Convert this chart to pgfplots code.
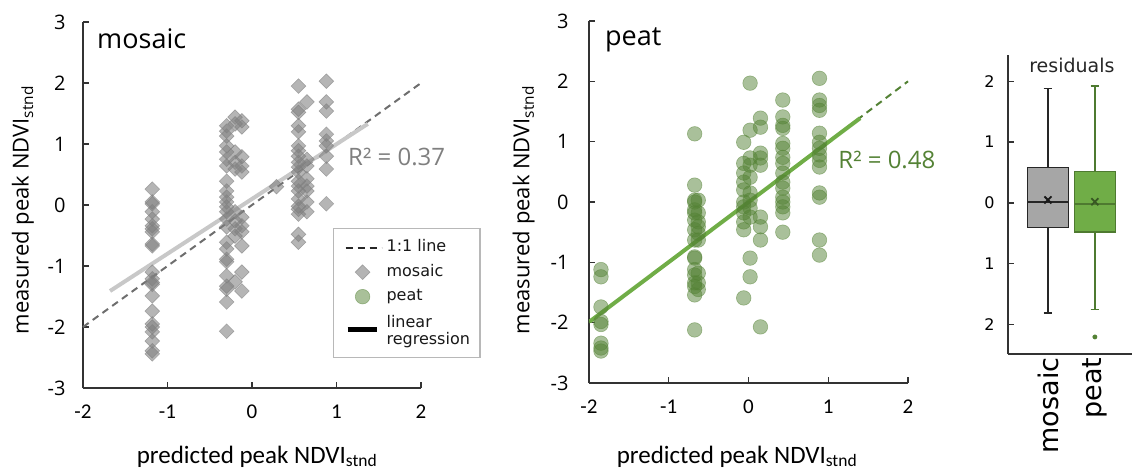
\documentclass[border=0pt]{standalone}
\usepackage{fontspec}
\setmainfont{Open Sans}
\newfontfamily\carl{Carlito}
\newfontfamily\dvs{DejaVu Sans}
\usepackage{pgfplots}
\pgfplotsset{compat=1.18}
\usepgfplotslibrary{statistics}
\definecolor{mosfill}{HTML}{7F7F7F}
\definecolor{mosreg}{HTML}{C8C8C8}
\definecolor{oneline}{HTML}{6E6E6E}
\definecolor{peatpt}{HTML}{548235}
\definecolor{peatreg}{HTML}{70AD47}
\definecolor{peatdark}{HTML}{385723}
\definecolor{peatedge}{HTML}{4E7A30}
\definecolor{boxgray}{HTML}{A6A6A6}
\pgfplotsset{
  scat/.style={
    scale only axis, anchor=south west, clip=false,
    xmin=-2, xmax=2, ymin=-3, ymax=3,
    axis x line*=bottom, axis y line*=left,
    axis line style={-, line width=1.2pt, black!80},
    tick align=inside, major tick length=6pt,
    tick style={line width=1.2pt, black!80},
    xtick={-2,-1,0,1,2}, xticklabels={-2,-1,0,1,2},
    ytick={-3,-2,-1,0,1,2,3}, yticklabels={-3,-2,-1,0,1,2,3},
    xticklabel style={font=\carl\fontsize{21}{21}\selectfont, yshift=-13pt},
    yticklabel style={font=\fontsize{20}{20}\selectfont},
    xlabel style={font=\carl\fontsize{25}{25}\selectfont, anchor=base},
    ylabel style={font=\fontsize{22}{22}\selectfont, anchor=center},
    xlabel={predicted peak NDVI\textsubscript{stnd}},
    ylabel={measured peak NDVI\textsubscript{stnd}},
  },
  mosmark/.style={only marks, mark=square*, mark size=5.2pt,
    mark options={rotate=45, fill=mosfill, draw=mosfill, fill opacity=0.58, draw opacity=0.58, line width=0.6pt}},
  peatmark/.style={only marks, mark=*, mark size=7.3pt,
    mark options={fill=peatpt, draw=peatpt, fill opacity=0.5, draw opacity=0.5, line width=0.6pt}},
  markimg/.style={legend image code/.code={\path[draw=none] (-4pt,0pt) -- (36pt,0pt); \path[##1, draw=none] plot coordinates {(17pt,0pt)};}},
  dashimg/.style={legend image code/.code={\path[draw=none] (-4pt,0pt) -- (36pt,0pt); \draw[solid, black!85, line width=2pt, dash pattern=on 7pt off 5pt] (0pt,0pt) -- (36pt,0pt);}},
  thickimg/.style={legend image code/.code={\path[draw=none] (-4pt,0pt) -- (36pt,0pt); \draw[solid, black, line width=4.5pt] (2pt,0pt) -- (31pt,0pt);}},
}
\begin{document}
\begin{tikzpicture}
\useasboundingbox (0,0) rectangle (1132pt,469pt);
% ---------------- mosaic panel
\begin{axis}[scat, at={(83pt,81pt)}, width=338pt, height=366pt,
  yticklabel style={xshift=-14pt},
  xlabel style={at={(axis description cs:0.515,-0.205)}},
  ylabel style={at={(axis description cs:-0.178,0.486)}},
  legend style={at={(axis description cs:0.7396,0.437)}, anchor=north west,
    draw=black!28, line width=1.2pt, fill=white,
    font=\dvs\fontsize{16}{18}\selectfont, text=black!90,
    inner xsep=8pt, inner ysep=9pt, row sep=4.5pt, column sep=2pt,
    nodes={inner sep=2pt, text height=12pt, text depth=4pt}},
  legend cell align=left,
]
\addlegendimage{dashimg}
\addlegendentry{1:1 line}
\addlegendimage{markimg, mosmark}
\addlegendentry{mosaic}
\addlegendimage{markimg, peatmark}
\addlegendentry{peat}
\addlegendimage{thickimg}
\addlegendentry[text height=14pt, text depth=19pt]{\begin{tabular}[t]{@{}l@{}}linear\\[-1pt]regression\end{tabular}}
% 1:1 line
\addplot[oneline, line width=2pt, dash pattern=on 7pt off 5pt] coordinates {(-2,-2) (2,2)};
% mosaic data
\addplot[mosmark] coordinates {
(-1.18,0.26) (-1.18,0.05) (-1.18,0.02) (-1.18,-0.11) (-1.18,-0.23) (-1.18,-0.34) (-1.18,-0.39) (-1.18,-0.44) (-1.18,-0.64) (-1.18,-0.67)
(-1.18,-1.10) (-1.18,-1.21) (-1.18,-1.27) (-1.18,-1.30) (-1.18,-1.49) (-1.18,-1.74) (-1.18,-1.95) (-1.18,-2.00) (-1.18,-2.08) (-1.18,-2.23) (-1.18,-2.39) (-1.18,-2.44)
(-0.30,1.30) (-0.30,1.21) (-0.30,1.13) (-0.30,0.97) (-0.30,0.87) (-0.30,0.75) (-0.30,0.64) (-0.30,0.39) (-0.30,0.23) (-0.30,0.13) (-0.30,0.05) (-0.30,-0.03)
(-0.30,-0.11) (-0.30,-0.23) (-0.30,-0.36) (-0.30,-0.61) (-0.30,-0.72) (-0.30,-0.89) (-0.30,-0.93) (-0.30,-1.16) (-0.30,-1.33) (-0.30,-1.38) (-0.30,-1.59) (-0.30,-2.07)
(-0.20,1.44) (-0.12,1.38) (-0.20,1.33) (-0.12,1.28) (-0.20,0.87) (-0.12,0.79) (-0.20,0.70) (-0.12,0.64) (-0.20,0.59) (-0.12,0.54)
(-0.20,-0.11) (-0.12,-0.20) (-0.20,-0.26) (-0.12,-0.34) (-0.20,-0.39) (-0.12,-0.44) (-0.20,-0.51) (-0.12,-0.67) (-0.12,-1.10) (-0.20,-1.26) (-0.12,-1.41)
(0.29,0.30)
(0.55,1.95) (0.55,1.57) (0.55,1.52) (0.55,1.30) (0.55,1.20) (0.55,0.97) (0.55,0.89) (0.55,0.80) (0.55,0.70) (0.55,0.62)
(0.55,0.54) (0.55,0.39) (0.55,0.31) (0.55,0.23) (0.55,0.10) (0.55,-0.02) (0.55,-0.07) (0.55,-0.15) (0.55,-0.48) (0.55,-0.61)
(0.65,1.69) (0.65,0.75) (0.65,0.64) (0.65,0.43) (0.65,0.31) (0.65,0.23) (0.65,0.05) (0.65,-0.11)
(0.88,2.03) (0.88,1.69) (0.88,1.54) (0.88,1.16) (0.88,1.05) (0.88,0.97) (0.88,0.80) (0.88,0.59) (0.88,0.02)
};
% regression
\addplot[mosreg, line width=4pt] coordinates {(-1.68,-1.41) (1.37,1.33)};
\node[anchor=base west, inner sep=0pt, font=\fontsize{27}{27}\selectfont] at (axis cs:-1.834,2.56) {mosaic};
\node[anchor=base west, inner sep=0pt, text=mosfill, font=\fontsize{24}{24}\selectfont] at (axis cs:1.136,0.64) {R² = 0.37};
\end{axis}
% ---------------- peat panel
\begin{axis}[scat, at={(589pt,86pt)}, width=319pt, height=362pt,
  yticklabel style={xshift=-17pt},
  xlabel style={at={(axis description cs:0.464,-0.221)}},
  ylabel style={at={(axis description cs:-0.205,0.478)}},
]
\addplot[peatpt, line width=2pt, dash pattern=on 7pt off 5pt] coordinates {(-2,-2) (2,2)};
\addplot[peatmark] coordinates {
(-1.85,-1.12) (-1.85,-1.24) (-1.85,-1.74) (-1.85,-1.98) (-1.85,-2.03) (-1.85,-2.34) (-1.85,-2.42) (-1.85,-2.47)
(-0.675,1.13) (-0.675,0.28) (-0.675,0.03) (-0.675,0.00) (-0.675,-0.13) (-0.675,-0.18) (-0.675,-0.30) (-0.675,-0.46) (-0.675,-0.63)
(-0.675,-0.91) (-0.675,-0.93) (-0.675,-1.12) (-0.675,-1.21) (-0.675,-1.34) (-0.675,-1.40) (-0.675,-1.54) (-0.675,-2.12)
(-0.63,0.03) (-0.63,-0.18) (-0.63,-0.33) (-0.63,-0.41) (-0.63,-0.52) (-0.63,-0.63) (-0.63,-1.18) (-0.63,-1.34) (-0.63,-1.45)
(-0.06,0.99) (-0.06,0.64) (-0.06,0.48) (-0.06,0.33) (-0.06,0.20) (-0.06,0.00) (-0.06,-0.08) (-0.06,-0.18) (-0.06,-0.33) (-0.06,-0.46) (-0.06,-1.59)
(0.02,1.97) (0.02,1.19) (0.02,0.73) (0.02,0.61) (0.02,0.41) (0.02,0.15) (0.02,0.03) (0.02,-0.10) (0.02,-0.25) (0.02,-0.93) (0.02,-1.24)
(0.15,1.39) (0.15,1.24) (0.15,0.81) (0.15,0.73) (0.15,0.61) (0.15,-0.25) (0.15,-0.41) (0.15,-0.63) (0.15,-2.07)
(0.43,1.69) (0.43,1.41) (0.43,1.27) (0.43,1.22) (0.43,0.97) (0.43,0.89) (0.43,0.74) (0.43,0.64) (0.43,0.48) (0.43,0.33) (0.43,0.23) (0.43,0.08) (0.43,0.00) (0.43,-0.08) (0.43,-0.18) (0.43,-0.50)
(0.89,2.05) (0.89,1.69) (0.89,1.60) (0.89,1.52) (0.89,1.14) (0.89,0.99) (0.89,0.89) (0.89,0.78) (0.89,0.69) (0.89,0.58) (0.89,0.15) (0.89,0.08) (0.89,-0.63) (0.89,-0.88)
};
\addplot[peatreg, line width=4pt] coordinates {(-1.99,-1.98) (1.40,1.39)};
\node[anchor=base west, inner sep=0pt, font=\fontsize{27}{27}\selectfont] at (axis cs:-1.80,2.60) {peat};
\node[anchor=base west, inner sep=0pt, text=peatpt, font=\fontsize{24}{24}\selectfont] at (axis cs:1.125,0.56) {R² = 0.48};
\end{axis}
% ---------------- residual boxplots
\begin{axis}[at={(1008pt,115pt)}, anchor=south west, scale only axis, clip=false,
  width=124pt, height=299pt,
  xmin=0.15, xmax=2.79, ymin=-2.48, ymax=2.43,
  axis x line*=bottom, axis y line*=left,
  axis line style={-, line width=1.2pt, black!80},
  tick align=inside, major tick length=6pt,
  tick style={line width=1.2pt, black!80},
  boxplot/draw direction=y,
  boxplot/every median/.style={line width=1.8pt},
  xtick={1,2}, xticklabels={mosaic,peat}, xtick style={draw=none},
  xticklabel style={rotate=90, anchor=east, font=\dvs\fontsize{27}{27}\selectfont},
  ytick={-2,-1,0,1,2}, yticklabels={2,1,0,1,2},
  yticklabel style={font=\dvs\fontsize{16}{16}\selectfont, xshift=-10pt},
]
\addplot[draw=black!85, line width=1.6pt, fill=boxgray,
  boxplot/box extend=0.87, boxplot/whisker extend=0.18,
  boxplot prepared={draw position=1, median=0.02, upper quartile=0.58,
    lower quartile=-0.40, upper whisker=1.88, lower whisker=-1.81}] coordinates {};
\addplot[draw=peatedge, line width=1.6pt, fill=peatreg,
  boxplot/box extend=0.87, boxplot/whisker extend=0.18,
  boxplot prepared={draw position=2, median=-0.02, upper quartile=0.52,
    lower quartile=-0.48, upper whisker=1.92, lower whisker=-1.75}] coordinates {};
\addplot[only marks, mark=x, mark size=5pt, line width=1.8pt, black!90] coordinates {(1,0.05)};
\addplot[only marks, mark=x, mark size=5pt, line width=1.8pt, peatdark] coordinates {(2,0.02)};
\addplot[only marks, mark=*, mark size=2.2pt, peatpt] coordinates {(2,-2.20)};
\node[anchor=base, inner sep=0pt, font=\dvs\fontsize{19}{19}\selectfont, text=black!85] at (axis cs:1.51,2.15) {residuals};
\end{axis}
\end{tikzpicture}
\end{document}
